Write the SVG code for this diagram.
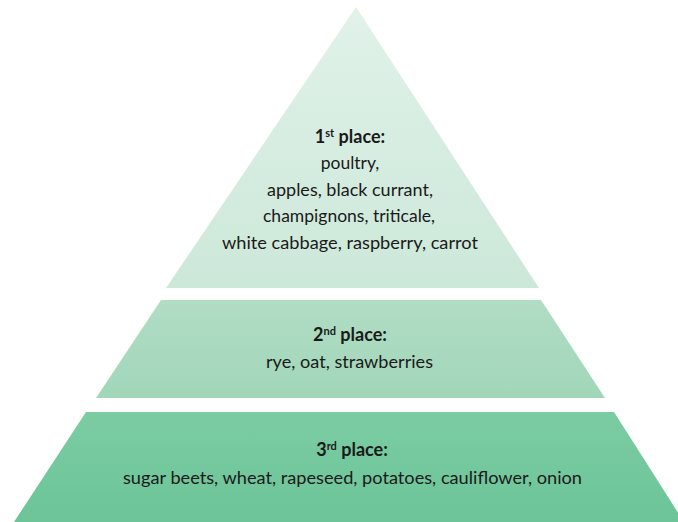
<svg xmlns="http://www.w3.org/2000/svg" width="678" height="522" viewBox="0 0 678 522">
<defs>
<linearGradient id="g1" x1="0" y1="0" x2="0" y2="1"><stop offset="0" stop-color="#e1f2e9"/><stop offset="1" stop-color="#cce8d9"/></linearGradient>
<linearGradient id="g2" x1="0" y1="0" x2="0" y2="1"><stop offset="0" stop-color="#b1ddc5"/><stop offset="1" stop-color="#a1d6b9"/></linearGradient>
<linearGradient id="g3" x1="0" y1="0" x2="0" y2="1"><stop offset="0" stop-color="#7ccca3"/><stop offset="1" stop-color="#6cc498"/></linearGradient>
</defs>
<style>
text{font-family:Lato,"Open Sans","Liberation Sans",sans-serif;font-size:17.5px;fill:#1a1a1a;text-anchor:middle}
.h{font-weight:bold;font-size:18px}
.sup{font-size:11px;font-weight:bold}
</style>
<rect width="678" height="522" fill="#ffffff"/>
<g id="tier1">
<polygon points="356,7 539,288 166,288" fill="url(#g1)"/>
<text class="h" x="350" y="143">1<tspan class="sup" dy="-6">st</tspan><tspan dy="6"> place:</tspan></text>
<text x="350" y="169">poultry,</text>
<text x="350" y="196" textLength="166" lengthAdjust="spacingAndGlyphs">apples, black currant,</text>
<text x="349" y="222" textLength="172" lengthAdjust="spacingAndGlyphs">champignons, triticale,</text>
<text x="350" y="249" textLength="256" lengthAdjust="spacingAndGlyphs">white cabbage, raspberry, carrot</text>
</g>
<g id="tier2">
<polygon points="161,300 541,300 605,398 96,398" fill="url(#g2)"/>
<text class="h" x="350" y="341">2<tspan class="sup" dy="-6">nd</tspan><tspan dy="6"> place:</tspan></text>
<text x="349.5" y="368" textLength="167" lengthAdjust="spacingAndGlyphs">rye, oat, strawberries</text>
</g>
<g id="tier3">
<polygon points="86,412 614,412 684,522 14,522" fill="url(#g3)"/>
<text class="h" x="352" y="456">3<tspan class="sup" dy="-6">rd</tspan><tspan dy="6"> place:</tspan></text>
<text x="352.5" y="484" textLength="459" lengthAdjust="spacingAndGlyphs">sugar beets, wheat, rapeseed, potatoes, cauliflower, onion</text>
</g>
<g id="connectors"/>
</svg>
